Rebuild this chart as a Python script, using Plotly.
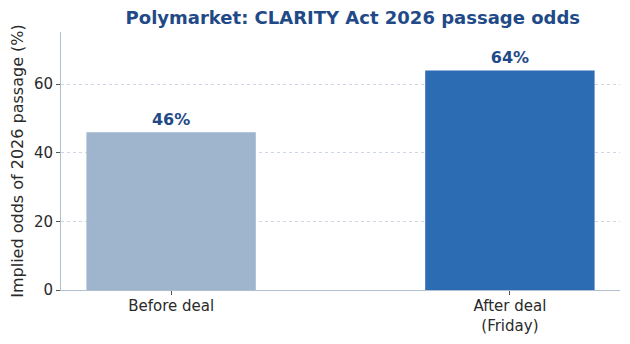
import plotly.graph_objects as go

categories = ["Before deal", "After deal<br>(Friday)"]
values = [46, 64]
labels = ["46%", "64%"]
bar_colors = ["#9fb5cd", "#2b6cb3"]
y_ticks = [0, 20, 40, 60]

title_color = "#1f4a87"
font_family = "DejaVu Sans"

fig = go.Figure()
fig.add_trace(go.Bar(
    x=[0, 1], y=values, width=0.5,
    marker=dict(color=bar_colors, line=dict(width=0)),
    text=labels, textposition="outside", cliponaxis=False,
    textfont=dict(family=font_family, size=16, color=title_color, weight="bold"),
))

fig.update_layout(
    width=630, height=344,
    margin=dict(l=61, r=10, t=32, b=54, autoexpand=False),
    paper_bgcolor="white", plot_bgcolor="white",
    showlegend=False,
    font=dict(family=font_family, size=15, color="#2a2a2a"),
    title=dict(text="<b>Polymarket: CLARITY Act 2026 passage odds</b>",
               x=0.56, xanchor="center", y=0.95, yanchor="middle",
               font=dict(family=font_family, size=18, color=title_color)),
    bargap=0.5,
)
fig.update_xaxes(
    range=[-0.325, 1.325], tickvals=[0, 1], ticktext=categories,
    showline=True, linecolor="#aebfd0", linewidth=1,
    ticks="outside", ticklen=4, tickcolor="#555555",
    showgrid=False, zeroline=False, automargin=False,
    ticklabelstandoff=-2,
    tickfont=dict(size=15, color="#2a2a2a"),
)
fig.update_yaxes(
    range=[0, 75.2], tickvals=y_ticks,
    showline=True, linecolor="#aebfd0", linewidth=1,
    ticks="outside", ticklen=4, tickcolor="#555555",
    showgrid=True, gridcolor="#cdd8e4", griddash="dot", gridwidth=1,
    zeroline=False, automargin=False,
    tickfont=dict(size=15, color="#2a2a2a"),
    title=dict(text="Implied odds of 2026 passage (%)", standoff=6,
               font=dict(size=16, color="#2a2a2a")),
)

fig.write_html("out.html")
